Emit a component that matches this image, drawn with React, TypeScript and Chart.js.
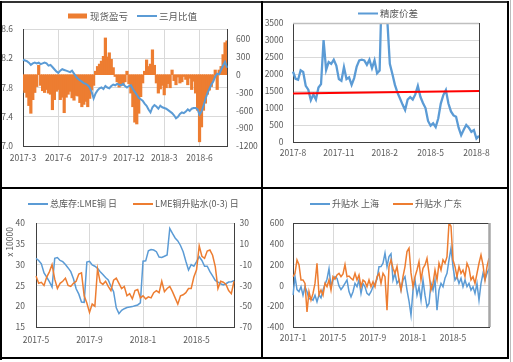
import { useEffect, useRef } from 'react';
import { Chart, registerables } from 'chart.js';

Chart.register(...registerables);

const BLUE = '#5B9BD5';
const ORANGE = '#ED7D31';
const RED = '#FF0000';
const TEXT = '#595959';
const GRID = '#D9D9D9';
const AXIS = '#404040';
const FONT = '"Noto Sans CJK SC", "Liberation Sans", sans-serif';

// ---------- Panel 1: 现货盈亏 / 三月比值 (6 samples per month from 2017-3) ----------
const p1Ticks = ['2017-3', '2017-6', '2017-9', '2017-12', '2018-3', '2018-6'];
const p1LeftTicks = [7.0, 7.4, 7.8, 8.2, 8.6];
const p1RightTicks = [-1200, -900, -600, -300, 0, 300, 600];
const p1Spot = [
  -260, -300, -380, -520, -650, -420, -300, -200, 160, -180, -270, -300, -250, -310, -330, -590, -420, -280,
  -250, -420, -380, -640, -380, -330, -280, -390, -430, -350, -360, -470, -540, -500, -450, -540, -400, -260,
  -180, 60, 140, 180, 230, 310, 620, 300, 370, 260, 120, -30, -120, -210, -160, -180, -120, 60,
  -150, -310, -540, -800, -830, -650, -370, -140, 60, 250, 140, 180, 420, 160, -140, -310, -240, -180,
  -340, -220, -150, -220, 80, -100, -170, -40, -140, -120, -30, -80, -170, -60, -250, -110, -310, -600,
  -1130, -880, -600, -480, -330, -260, -200, -85, 80, -250, 80, 140, 340, 540, 570,
];
const p1Ratio = [
  8.18, 8.17, 8.16, 8.14, 8.11, 8.13, 8.14, 8.13, 8.14, 8.12, 8.13, 8.14, 8.13, 8.10, 8.11, 8.08, 8.05, 8.02,
  8.00, 8.03, 8.05, 8.04, 8.03, 8.02, 8.01, 8.03, 7.99, 7.95, 7.92, 7.90, 7.88, 7.86, 7.85, 7.83, 7.80, 7.74,
  7.65, 7.72, 7.76, 7.79, 7.80, 7.78, 7.82, 7.80, 7.79, 7.82, 7.84, 7.83, 7.85, 7.84, 7.83, 7.85, 7.82, 7.80,
  7.82, 7.83, 7.78, 7.74, 7.70, 7.66, 7.64, 7.62, 7.58, 7.55, 7.50, 7.46, 7.53, 7.56, 7.54, 7.51, 7.55, 7.53,
  7.52, 7.51, 7.49, 7.47, 7.45, 7.42, 7.38, 7.40, 7.44, 7.46, 7.45, 7.47, 7.50, 7.48, 7.51, 7.52, 7.52, 7.50,
  7.43, 7.47, 7.55, 7.64, 7.72, 7.78, 7.84, 7.88, 7.95, 7.99, 7.98, 8.04, 8.10, 8.15, 8.07,
];

// ---------- Panel 2: 精废价差 (6 samples per month from 2017-8) ----------
const p2Ticks = ['2017-8', '2017-11', '2018-2', '2018-5', '2018-8'];
const p2YTicks = [0, 500, 1000, 1500, 2000, 2500, 3000, 3500];
const p2Spread = [
  2070, 1860, 1830, 2110, 2060, 1650, 1540, 1230, 1400, 1250,
  1600, 1700, 3000, 2120, 2350, 2300, 2420, 2250, 1850, 1800,
  2200, 1850, 1900, 1680, 1880, 2220, 2400, 2420, 2400, 2270,
  2420, 2170, 2400, 2020, 2100, 5000, 5000, 3600, 2300, 2000,
  1680, 1450, 1280, 1100, 940, 1250, 1320, 1250, 1400, 1650,
  1330, 1150, 1000, 620, 480, 550, 440, 690, 1130, 1380,
  1530, 1130, 900, 780, 740, 420, 200, 360, 500, 420,
  300, 350, 100, 180,
];
const p2RefEnds = [1430, 1500];

// ---------- Panel 3: 总库存:LME铜 / LME铜升贴水(0-3) (5 samples per month from 2017-5) ----------
const p3Ticks = ['2017-5', '2017-9', '2018-1', '2018-5'];
const p3LeftTicks = [15, 20, 25, 30, 35, 40];
const p3RightTicks = [-70, -50, -30, -10, 10, 30];
const p3Stock = [
  31.5, 31.0, 30.2, 28.0, 27.0, 25.9, 24.6, 31.5, 31.7, 31.0,
  30.7, 30.0, 29.2, 28.3, 26.6, 24.2, 22.9, 21.0, 20.9, 30.6,
  30.8, 29.9, 29.6, 29.1, 28.3, 27.6, 26.9, 26.3, 24.8, 23.5,
  19.6, 18.2, 19.0, 19.4, 19.7, 19.8, 19.9, 20.1, 20.3, 20.8,
  30.8, 30.9, 33.3, 33.6, 33.5, 33.1, 31.8, 31.7, 32.0, 32.3,
  38.7, 37.5, 36.4, 35.7, 34.6, 33.1, 30.8, 28.7, 30.0, 29.6,
  30.7, 31.9, 31.0, 29.6, 29.6, 28.3, 27.3, 26.2, 25.8, 25.4,
  25.1, 25.4, 25.8, 25.9, 26.1,
];
const p3Spread = [
  -21, -28, -27, -30, -22, -17, -10, -24, -33, -28,
  -26, -23, -30, -31, -28, -26, -19, -18, -40, -47,
  -56, -48, -50, -14, -27, -29, -26, -31, -35, -25,
  -23, -28, -33, -31, -40, -38, -43, -35, -34, -42,
  -40, -43, -41, -42, -37, -35, -37, -26, -36, -33,
  -31, -36, -42, -48, -40, -39, -37, -33, -33, -22,
  -15, 8, -2, -4, 3, 4, -1, -12, -33, -26,
  -27, -29, -35, -38, -26,
];

// ---------- Panel 4: 升贴水 上海 / 广东 (5 samples per month from 2017-1) ----------
const p4Ticks = ['2017-1', '2017-5', '2017-9', '2018-1', '2018-5'];
const p4YTicks = [-400, -200, 0, 200, 400, 600];
const p4Shanghai = [
  -94, 84, -40, -60, -13, -94, -13, -60, -130, -126,
  -142, -94, -158, -90, -120, -45, 10, 60, 160, -10,
  52, 84, 68, -5, -40, -13, 19, 52, -60, -110,
  -61, 19, -13, 52, -77, 19, -13, -77, -94, -61,
  -13, 19, 60, 180, 181, 213, 310, 181, 277, 303,
  52, 116, 19, 52, -45, 52, 84, -45, -150, -287,
  -45, 52, -94, -13, -142, 52, -94, -206, -174, 19,
  -45, 52, -239, -45, 19, -13, 68, 116, 245, 358,
  181, 52, 84, 19, 68, -13, 52, -13, 19, -45,
  -13, -77, 19, -142, 19, 116, 52, 116, 160,
];
const p4Guangdong = [
  84, 116, 245, 200, 52, 52, 19, -255, -60, -142,
  -77, 19, 213, -90, -45, -94, 19, -13, 52, -45,
  84, 60, 100, 116, 84, 110, 200, 84, 90, 68,
  52, 116, 52, 100, -13, 52, 35, -13, 52, -13,
  35, -13, 84, 116, 19, 116, 84, -239, 181, 245,
  165, 116, 181, 52, -45, 84, 181, 326, 358, 120,
  -13, 84, 148, 229, 52, 165, 197, 261, 116, -45,
  19, 148, 52, 213, 148, 245, 213, 277, 600, 568,
  245, 181, 84, 181, 116, 148, 84, 213, 165, 52,
  84, 19, 116, 213, 293, 197, 52, 181, 261,
];

// ---------- helpers ----------
function buildCats(y0: number, m0: number, per: number, n: number): string[] {
  const out: string[] = [];
  for (let i = 0; i < n; i++) {
    const mi = m0 - 1 + Math.floor(i / per);
    const y = y0 + Math.floor(mi / 12);
    const m = (mi % 12) + 1;
    out.push(`${y}-${m}#${i % per}`);
  }
  return out;
}

function xAxis(labels: string[], ticks: string[], grid: boolean, height: number, pad: number) {
  return {
    type: 'category',
    offset: false,
    grid: { display: grid, color: GRID, lineWidth: 1, drawTicks: false, offset: false },
    border: { display: true, color: AXIS, width: 1 },
    ticks: {
      autoSkip: false, maxRotation: 0, minRotation: 0, padding: pad, color: TEXT,
      font: { family: FONT, size: 8.5 },
      callback: (v: number) => labels[v].split('#')[0],
    },
    afterBuildTicks: (s: any) => {
      s.ticks = s.ticks.filter((t: any) => {
        const [mon, k] = labels[t.value].split('#');
        return k === '0' && ticks.includes(mon);
      });
    },
    afterFit: (s: any) => { s.height = height; },
  };
}

function yAxis(pos: string, min: number, max: number, tickVals: number[], grid: boolean, width: number, pad: number, fmt: (v: number) => string) {
  return {
    type: 'linear', position: pos, min, max,
    grid: { display: grid, drawOnChartArea: grid, color: GRID, lineWidth: 1, drawTicks: false },
    border: { display: true, color: AXIS, width: 1 },
    ticks: {
      autoSkip: false, padding: pad, color: TEXT, font: { family: FONT, size: 8.5 },
      callback: (v: number) => fmt(v),
    },
    afterBuildTicks: (s: any) => { s.ticks = tickVals.map((v) => ({ value: v })); },
    afterFit: (s: any) => { s.width = width; },
  };
}

type LegendItem = { text: string; color: string; kind: 'line' | 'rect'; x: number };

function legendPlugin(items: LegendItem[], y: number, size: number) {
  return {
    id: 'customLegend',
    afterDraw(chart: any) {
      const ctx = chart.ctx as CanvasRenderingContext2D;
      ctx.save();
      ctx.font = `${size}px ${FONT}`;
      ctx.textBaseline = 'middle';
      ctx.textAlign = 'left';
      for (const it of items) {
        if (it.kind === 'rect') {
          ctx.fillStyle = it.color;
          ctx.fillRect(it.x, y - 2.5, 19, 5);
        } else {
          ctx.strokeStyle = it.color;
          ctx.lineWidth = 2;
          ctx.beginPath();
          ctx.moveTo(it.x, y);
          ctx.lineTo(it.x + 20, y);
          ctx.stroke();
        }
        ctx.fillStyle = TEXT;
        ctx.fillText(it.text, it.x + 22, y);
      }
      ctx.restore();
    },
  };
}

type Seg = { side: 'top' | 'right'; color: string; width: number };
function framePlugin(segs: Seg[]) {
  return {
    id: 'frame',
    afterDraw(chart: any) {
      const { left, right, top, bottom } = chart.chartArea;
      const ctx = chart.ctx as CanvasRenderingContext2D;
      ctx.save();
      for (const s of segs) {
        ctx.strokeStyle = s.color;
        ctx.lineWidth = s.width;
        ctx.beginPath();
        if (s.side === 'top') {
          const yy = Math.round(top) + 0.5;
          ctx.moveTo(left, yy);
          ctx.lineTo(right, yy);
        } else {
          const xx = Math.round(right) + 0.5;
          ctx.moveTo(xx, top);
          ctx.lineTo(xx, bottom);
        }
        ctx.stroke();
      }
      ctx.restore();
    },
  };
}

function unitLabelPlugin(text: string, x: number, y: number) {
  return {
    id: 'unitLabel',
    afterDraw(chart: any) {
      const ctx = chart.ctx as CanvasRenderingContext2D;
      ctx.save();
      ctx.translate(x, y);
      ctx.rotate(-Math.PI / 2);
      ctx.font = `8.5px ${FONT}`;
      ctx.fillStyle = TEXT;
      ctx.textAlign = 'center';
      ctx.textBaseline = 'middle';
      ctx.fillText(text, 0, 0);
      ctx.restore();
    },
  };
}

function baseOptions(padding: any, scales: any) {
  return {
    responsive: false,
    maintainAspectRatio: false,
    animation: false,
    devicePixelRatio: 1,
    events: [],
    layout: { padding },
    plugins: { legend: { display: false }, tooltip: { enabled: false }, title: { display: false } },
    scales,
  };
}

// ---------- chart configs ----------
function config1() {
  const cats = buildCats(2017, 3, 6, p1Spot.length);
  return {
    type: 'bar',
    data: {
      labels: cats,
      datasets: [
        { type: 'line', data: p1Ratio, yAxisID: 'y', borderColor: BLUE, borderWidth: 2, pointRadius: 0, tension: 0, order: 0 },
        {
          type: 'bar', data: p1Spot, yAxisID: 'y2', backgroundColor: ORANGE, borderWidth: 0,
          barThickness: 2.6, inflateAmount: 0.3, order: 1,
        },
      ],
    },
    options: baseOptions({ left: 0, right: 0, top: 29, bottom: 0 }, {
      x: xAxis(cats, p1Ticks, true, 42, 7),
      y: yAxis('left', 7.0, 8.6, p1LeftTicks, true, 23, 10, (v) => v.toFixed(1)),
      y2: yAxis('right', -1200, 770, p1RightTicks, false, 35, 9, (v) => String(v)),
    }),
    plugins: [legendPlugin([
      { text: '现货盈亏', color: ORANGE, kind: 'rect', x: 68 },
      { text: '三月比值', color: BLUE, kind: 'line', x: 137 },
    ], 16, 9.5)],
  };
}

function config2() {
  const cats = buildCats(2017, 8, 6, p2Spread.length);
  const ref = cats.map((_, i) => (i === 0 ? p2RefEnds[0] : i === cats.length - 1 ? p2RefEnds[1] : null));
  return {
    type: 'line',
    data: {
      labels: cats,
      datasets: [
        { data: ref, borderColor: RED, borderWidth: 2, pointRadius: 0, spanGaps: true, order: 0 },
        { data: p2Spread, borderColor: BLUE, borderWidth: 2.3, pointRadius: 0, tension: 0, order: 1 },
      ],
    },
    options: baseOptions({ left: 0, right: 34, top: 23, bottom: 0 }, {
      x: xAxis(cats, p2Ticks, false, 46, 6),
      y: yAxis('left', 0, 3500, p2YTicks, true, 31, 9.5, (v) => String(v)),
    }),
    plugins: [
      framePlugin([{ side: 'top', color: '#BFBFBF', width: 1.5 }, { side: 'right', color: AXIS, width: 1 }]),
      legendPlugin([{ text: '精废价差', color: BLUE, kind: 'line', x: 96 }], 13.5, 9.5),
    ],
  };
}

function config3() {
  const cats = buildCats(2017, 5, 5, p3Stock.length);
  return {
    type: 'line',
    data: {
      labels: cats,
      datasets: [
        { data: p3Stock, yAxisID: 'y', borderColor: BLUE, borderWidth: 1.5, pointRadius: 0, tension: 0, order: 2 },
        { data: p3Spread, yAxisID: 'y2', borderColor: ORANGE, borderWidth: 1.5, pointRadius: 0, tension: 0, order: 1 },
      ],
    },
    options: baseOptions({ left: 0, right: 0, top: 35, bottom: 0 }, {
      x: xAxis(cats, p3Ticks, true, 35, 7.5),
      y: yAxis('left', 15, 40, p3LeftTicks, true, 36, 11, (v) => String(v)),
      y2: yAxis('right', -70, 30, p3RightTicks, false, 28, 5.5, (v) => String(v)),
    }),
    plugins: [
      legendPlugin([
        { text: '总库存:LME铜 日', color: BLUE, kind: 'line', x: 28 },
        { text: 'LME铜升贴水(0-3) 日', color: ORANGE, kind: 'line', x: 133 },
      ], 16, 9),
      unitLabelPlugin('x 10000', 9.5, 54),
    ],
  };
}

function config4() {
  const cats = buildCats(2017, 1, 5, p4Shanghai.length);
  return {
    type: 'line',
    data: {
      labels: cats,
      datasets: [
        { data: p4Shanghai, borderColor: BLUE, borderWidth: 1.5, pointRadius: 0, tension: 0, order: 2 },
        { data: p4Guangdong, borderColor: ORANGE, borderWidth: 1.5, pointRadius: 0, tension: 0, order: 1 },
      ],
    },
    options: baseOptions({ left: 0, right: 24, top: 35, bottom: 0 }, {
      x: xAxis(cats, p4Ticks, true, 35, 5.5),
      y: yAxis('left', -400, 600, p4YTicks, true, 31, 9, (v) => String(v)),
    }),
    plugins: [
      framePlugin([{ side: 'top', color: AXIS, width: 1 }, { side: 'right', color: '#A6A6A6', width: 2.5 }]),
      legendPlugin([
        { text: '升贴水 上海', color: BLUE, kind: 'line', x: 48 },
        { text: '升贴水 广东', color: ORANGE, kind: 'line', x: 131 },
      ], 16, 9),
    ],
  };
}

function ChartCanvas({ x, y, w, h, make }: { x: number; y: number; w: number; h: number; make: () => any }) {
  const ref = useRef<HTMLCanvasElement | null>(null);
  useEffect(() => {
    const chart = new Chart(ref.current as HTMLCanvasElement, make());
    return () => chart.destroy();
  }, []);
  return (
    <canvas
      ref={ref}
      width={w}
      height={h}
      style={{ position: 'absolute', left: x, top: y, width: w, height: h, display: 'block' }}
    />
  );
}

function Line({ x, y, w, h, c }: { x: number; y: number; w: number; h: number; c: string }) {
  return <div style={{ position: 'absolute', left: x, top: y, width: w, height: h, background: c }} />;
}

export default function App() {
  return (
    <div style={{ position: 'fixed', left: 0, top: 0, width: 513, height: 362, background: '#fff', overflow: 'hidden' }}>
      <ChartCanvas x={0} y={0} w={262} h={188} make={config1} />
      <ChartCanvas x={262} y={0} w={251} h={188} make={config2} />
      <ChartCanvas x={0} y={188} w={262} h={174} make={config3} />
      <ChartCanvas x={262} y={188} w={251} h={174} make={config4} />
      {/* frame lines */}
      <Line x={0} y={1} w={509} h={2} c="#333" />
      <Line x={0} y={1} w={2} h={359} c="#000" />
      <Line x={0} y={357} w={509} h={2} c="#000" />
      <Line x={507} y={1} w={2} h={358} c="#000" />
      <Line x={261} y={1} w={2} h={358} c="#000" />
      <Line x={0} y={187} w={509} h={2} c="#000" />
      <Line x={510} y={0} w={1} h={362} c="#BBBBBB" />
    </div>
  );
}
